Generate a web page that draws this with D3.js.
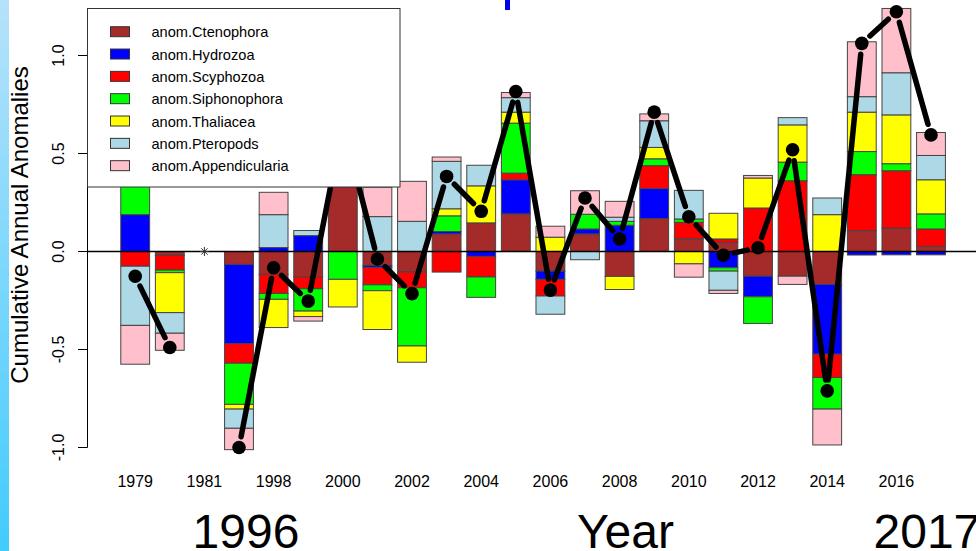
<!DOCTYPE html>
<html>
<head>
<meta charset="utf-8">
<script src="https://cdn.jsdelivr.net/npm/d3@7"></script>
<style>
  html, body { margin: 0; padding: 0; background: #fff; }
  svg { display: block; font-family: "Liberation Sans", Arial, sans-serif; }
</style>
</head>
<body>
<div id="chart"></div>
<script>
// years on the x axis (1981 has no data)
const years = ['1979', '1980', '1981', '1996', '1998', '1999', '2000', '2001', '2002', '2003', '2004', '2005',
  '2006', '2007', '2008', '2009', '2010', '2011', '2012', '2013', '2014', '2015', '2016', '2017'];

const seriesNames = ['anom.Ctenophora', 'anom.Hydrozoa', 'anom.Scyphozoa', 'anom.Siphonophora',
  'anom.Thaliacea', 'anom.Pteropods', 'anom.Appendicularia'];

const ctenophora = [0, -0.02, 0, -0.066, -0.117, -0.129, 0.62, -0.071, -0.105, 0.09, 0.146, 0.192,
  -0.1, 0.09, -0.127, 0.168, 0.065, 0.047, -0.126, -0.126, -0.168, 0.107, 0.12, 0.027];
const hydrozoa = [0.188, 0, 0, -0.404, 0.02, 0.081, 0, -0.01, 0, 0.012, -0.025, 0.174,
  -0.042, 0.025, 0.134, 0.153, 0, -0.083, -0.105, 0, -0.356, -0.018, -0.017, -0.017];
const scyphozoa = [-0.075, -0.075, 0, -0.1, -0.097, -0.061, 0, -0.089, -0.08, -0.105, -0.105, 0.034,
  -0.085, 0, 0, 0.117, 0.084, 0.017, 0.222, 0.361, -0.119, 0.285, 0.292, 0.088];
const siphonophora = [0.15, -0.013, 0, -0.21, -0.03, -0.114, -0.142, -0.03, -0.297, 0.08, -0.104, 0.255,
  0, 0.075, 0.02, 0.035, 0.017, -0.017, -0.136, 0.095, -0.161, 0.118, 0.036, 0.077];
const thaliacea = [0, -0.204, 0, -0.024, -0.144, -0.028, -0.141, -0.198, -0.083, 0.036, 0.189, 0.056,
  0.073, 0, -0.067, 0.058, -0.063, 0.131, 0.153, 0.19, 0.188, 0.201, 0.249, 0.174];
const pteropods = [-0.302, -0.105, 0, -0.098, 0.168, 0.026, 0, 0.178, 0.154, 0.242, 0.105, 0.074,
  -0.093, -0.042, 0.021, 0.136, 0.146, -0.098, 0, 0.037, 0.085, 0.079, 0.215, 0.124];
const appendicularia = [-0.198, -0.087, 0, -0.109, 0.114, -0.023, 0, 0.15, 0.204, 0.022, 0, 0.026,
  0.056, 0.12, 0.081, 0.035, -0.068, -0.016, 0.013, -0.042, -0.183, 0.28, 0.328, 0.117];

// black line: cumulative anomaly per year (null = no data)
const cumulative = [-0.126, -0.49, null, -1.0, -0.083, -0.253, 0.65, -0.038, -0.215, 0.383, 0.205, 0.816,
  -0.197, 0.273, 0.064, 0.711, 0.177, -0.019, 0.019, 0.519, -0.711, 1.062, 1.223, 0.595];

const yTicks = [-1.0, -0.5, 0.0, 0.5, 1.0];

const colors = ['#a52a2a', '#0000ff', '#ff0000', '#00ff00', '#ffff00', '#add8e6', '#ffc0cb'];

const W = 976, H = 551;

const svg = d3.select('#chart').append('svg')
  .attr('width', W)
  .attr('height', H);

svg.append('rect').attr('width', W).attr('height', H).attr('fill', '#fff');

// slide decoration: left gradient strip
const defs = svg.append('defs');
const grad = defs.append('linearGradient').attr('id', 'strip').attr('x1', 0).attr('y1', 0).attr('x2', 0).attr('y2', 1);
grad.append('stop').attr('offset', '0%').attr('stop-color', '#b6e2fa');
grad.append('stop').attr('offset', '100%').attr('stop-color', '#42ccff');
svg.append('rect').attr('x', 0).attr('y', 0).attr('width', 9).attr('height', H).attr('fill', 'url(#strip)');
svg.append('rect').attr('x', 505).attr('y', 0).attr('width', 5).attr('height', 10).attr('fill', '#0000f0');

const x = d3.scaleBand()
  .domain(years)
  .range([117.9, 948.3])
  .paddingInner(1 / 6)
  .paddingOuter(1 / 12);

const y = d3.scaleLinear()
  .domain([-1, 1])
  .range([447.5, 55.5]);

// build rows for stacking
const seriesValues = [ctenophora, hydrozoa, scyphozoa, siphonophora, thaliacea, pteropods, appendicularia];
const rows = years.map((yr, i) => {
  const r = { year: yr };
  seriesNames.forEach((s, k) => { r[s] = seriesValues[k][i]; });
  return r;
});

const stacked = d3.stack()
  .keys(seriesNames)
  .offset(d3.stackOffsetDiverging)(rows);

const layer = svg.append('g').selectAll('g')
  .data(stacked)
  .join('g')
  .attr('fill', (d, i) => colors[i]);

layer.selectAll('rect')
  .data(d => d.filter(p => p[1] - p[0] !== 0))
  .join('rect')
  .attr('x', d => x(d.data.year))
  .attr('width', x.bandwidth())
  .attr('y', d => y(d[1]))
  .attr('height', d => y(d[0]) - y(d[1]))
  .attr('stroke', '#444')
  .attr('stroke-width', 1);

// zero line (abline)
svg.append('line')
  .attr('x1', 87.5).attr('x2', W)
  .attr('y1', y(0)).attr('y2', y(0))
  .attr('stroke', '#000').attr('stroke-width', 1.5);

// y axis
const yAxis = svg.append('g');
yAxis.append('line')
  .attr('x1', 87.5).attr('x2', 87.5)
  .attr('y1', y(1)).attr('y2', y(-1))
  .attr('stroke', '#000');
yTicks.forEach(t => {
  yAxis.append('line')
    .attr('x1', 78).attr('x2', 87.5)
    .attr('y1', y(t)).attr('y2', y(t))
    .attr('stroke', '#000');
  yAxis.append('text')
    .attr('transform', `translate(63.5,${y(t)}) rotate(-90)`)
    .attr('text-anchor', 'middle')
    .attr('font-size', 16)
    .text(t.toFixed(1));
});

svg.append('text')
  .attr('transform', 'translate(28,225) rotate(-90)')
  .attr('text-anchor', 'middle')
  .attr('font-size', 24)
  .text('Cumulative Annual Anomalies');

// x labels: R drops every other one because they overlap
svg.append('g').selectAll('text')
  .data(years.filter((d, i) => i % 2 === 0))
  .join('text')
  .attr('x', d => x(d) + x.bandwidth() / 2)
  .attr('y', 487)
  .attr('text-anchor', 'middle')
  .attr('font-size', 16)
  .text(d => d);

// cumulative line, type = "b" (gaps around the points)
const pts = years.map((yr, i) => ({ year: yr, v: cumulative[i] }));
const cx = d => x(d.year) + x.bandwidth() / 2;
const gap = 11;
const segs = [];
for (let i = 1; i < pts.length; i++) {
  const a = pts[i - 1], b = pts[i];
  if (a.v === null || b.v === null) continue;
  const x0 = cx(a), y0 = y(a.v), x1 = cx(b), y1 = y(b.v);
  const len = Math.hypot(x1 - x0, y1 - y0);
  if (len <= 2 * gap) continue;
  const ux = (x1 - x0) / len, uy = (y1 - y0) / len;
  segs.push([x0 + ux * gap, y0 + uy * gap, x1 - ux * gap, y1 - uy * gap]);
}
svg.append('g').selectAll('line')
  .data(segs)
  .join('line')
  .attr('x1', d => d[0]).attr('y1', d => d[1])
  .attr('x2', d => d[2]).attr('y2', d => d[3])
  .attr('stroke', '#000')
  .attr('stroke-width', 5.5)
  .attr('stroke-linecap', 'round');

svg.append('g').selectAll('circle')
  .data(pts.filter(d => d.v !== null))
  .join('circle')
  .attr('cx', cx)
  .attr('cy', d => y(d.v))
  .attr('r', 6.8)
  .attr('fill', '#000');

// asterisk where there is no data
pts.filter(d => d.v === null).forEach(d => {
  const ax = cx(d), ay = y(0), s = 4.5;
  const g = svg.append('g').attr('stroke', '#333').attr('stroke-width', 1);
  g.append('line').attr('x1', ax - s).attr('x2', ax + s).attr('y1', ay).attr('y2', ay);
  g.append('line').attr('x1', ax).attr('x2', ax).attr('y1', ay - s).attr('y2', ay + s);
  g.append('line').attr('x1', ax - s * 0.7).attr('x2', ax + s * 0.7).attr('y1', ay - s * 0.7).attr('y2', ay + s * 0.7);
  g.append('line').attr('x1', ax - s * 0.7).attr('x2', ax + s * 0.7).attr('y1', ay + s * 0.7).attr('y2', ay - s * 0.7);
});

// legend (topleft, opaque)
const legend = svg.append('g');
legend.append('rect')
  .attr('x', 87.5).attr('y', 8.5)
  .attr('width', 312.5).attr('height', 178.5)
  .attr('fill', '#fff')
  .attr('stroke', '#333');
seriesNames.forEach((s, i) => {
  const cy = 31.7 + i * 22.33;
  legend.append('rect')
    .attr('x', 110.5).attr('y', cy - 5)
    .attr('width', 19).attr('height', 10)
    .attr('fill', colors[i])
    .attr('stroke', '#333');
  legend.append('text')
    .attr('x', 151.5).attr('y', cy + 5.5)
    .attr('font-size', 14.6)
    .text(s);
});

// slide annotations under the chart
const ann = [
  { t: '1996', x: 246, anchor: 'middle' },
  { t: 'Year', x: 577, anchor: 'start' },
  { t: '2017', x: 873.5, anchor: 'start' }
];
svg.append('g').selectAll('text')
  .data(ann)
  .join('text')
  .attr('x', d => d.x)
  .attr('y', 547.5)
  .attr('text-anchor', d => d.anchor)
  .attr('font-size', 48)
  .text(d => d.t);
</script>
</body>
</html>
